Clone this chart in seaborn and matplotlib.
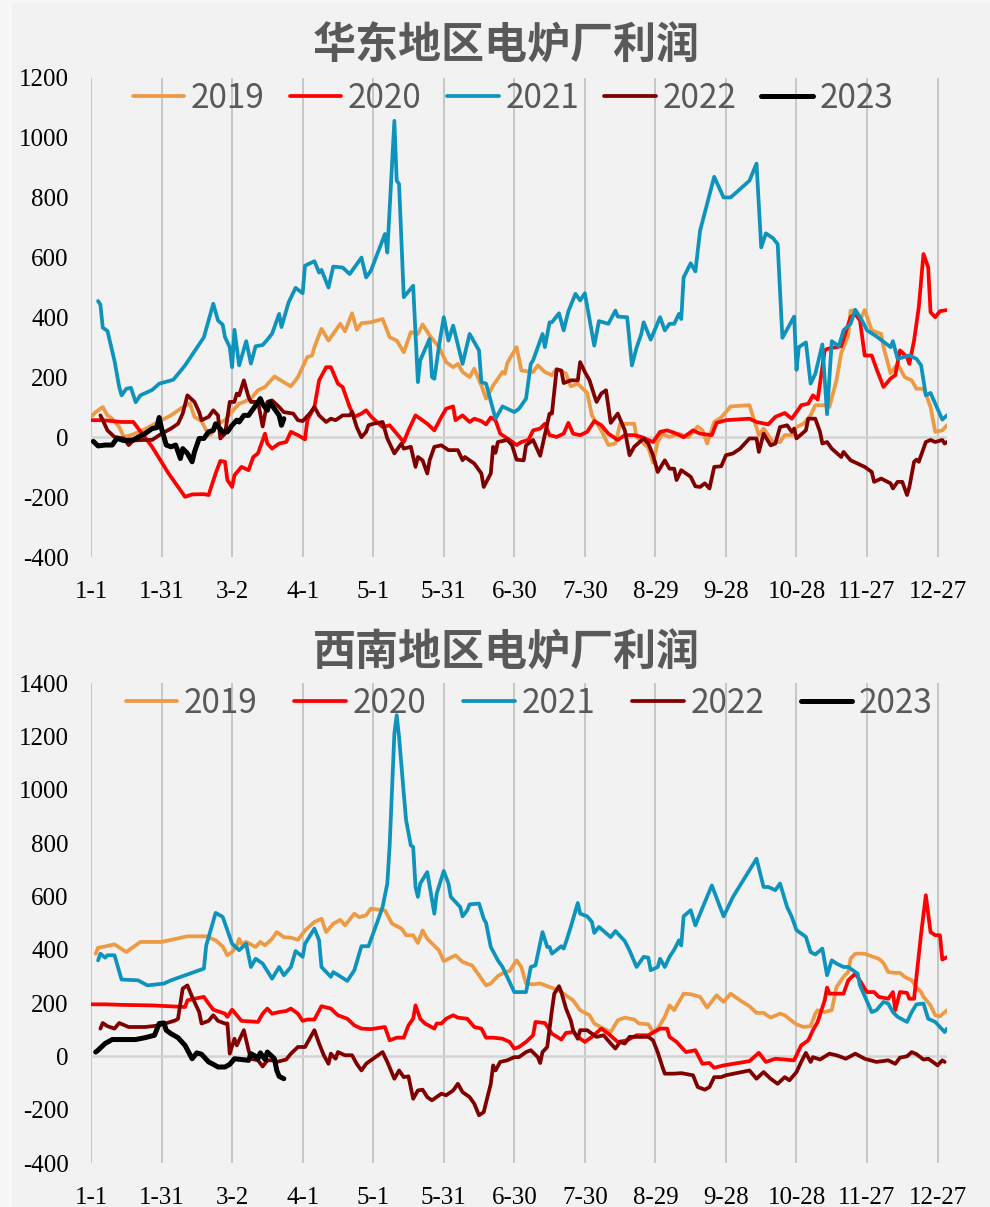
import matplotlib
matplotlib.use("Agg")
import matplotlib.pyplot as plt
from matplotlib.patches import Rectangle
import seaborn as sns
import pandas as pd

# ---- data: (day of year, profit in yuan/ton) ----
YEARS = ["2019", "2020", "2021", "2022", "2023"]
TICK_DAYS = [0, 30, 60, 90, 120, 150, 180, 210, 240, 270, 300, 330, 360]
TICK_LABELS = ["1-1", "1-31", "3-2", "4-1", "5-1", "5-31", "6-30", "7-30",
               "8-29", "9-28", "10-28", "11-27", "12-27"]

EAST_2019 = [(0,68),(2,84),(5,101),(7,73),(9,62),(12,34),(14,1),(17,7),(22,23),(30,57),(34,73),(38,95),(42,114),(44,68),(47,54),(50,7),(51,10),(54,45),(57,57),(61,95),(63,112),(65,118),(68,129),(71,157),(74,168),(78,203),(83,179),(85,170),(88,201),(92,268),(94,273),(95,301),(98,362),(101,323),(106,379),(108,354),(111,414),(113,359),(115,381),(119,384),(124,395),(127,334),(130,323),(133,284),(136,351),(139,345),(141,377),(144,340),(148,301),(151,251),(154,234),(156,245),(158,218),(161,201),(163,229),(166,173),(168,129),(171,173),(175,218),(176,212),(177,247),(178,262),(181,301),(183,223),(188,218),(190,240),(193,218),(196,207),(198,229),(202,212),(204,170),(207,179),(211,148),(213,73),(217,23),(220,-26),(223,-21),(225,45),(231,45),(232,1),(237,-35),(239,-85),(241,-15),(243,10),(246,1),(250,12),(254,0),(258,36),(260,23),(262,-21),(265,51),(268,66),(272,103),(280,107),(282,57),(284,7),(286,29),(290,-16),(293,-16),(295,7),(298,7),(300,34),(303,45),(306,73),(308,107),(312,107),(314,101),(317,190),(319,281),(320,301),(322,340),(323,423),(325,423),(327,390),(329,425),(332,357),(336,345),(337,301),(340,214),(343,245),(346,201),(349,190),(351,162),(354,162),(355,145),(357,101),(359,18),(362,23),(364,40)]
EAST_2020 = [(0,57),(5,57),(13,51),(18,51),(26,-32),(33,-121),(40,-199),(43,-191),(48,-190),(50,-193),(53,-121),(55,-79),(57,-82),(58,-143),(60,-166),(61,-127),(64,-99),(67,-110),(69,-66),(71,-54),(74,12),(75,-21),(77,-38),(80,-21),(83,-16),(85,18),(88,7),(91,-7),(92,57),(95,101),(97,190),(100,234),(102,234),(105,179),(107,168),(110,101),(112,68),(115,79),(117,90),(119,70),(122,48),(124,34),(127,40),(130,12),(133,-16),(135,23),(138,73),(140,62),(143,45),(146,23),(149,68),(151,95),(154,103),(155,57),(158,73),(161,51),(163,62),(166,54),(168,43),(170,66),(172,57),(174,12),(178,-9),(181,-26),(183,-16),(186,-9),(188,23),(191,29),(193,45),(195,7),(198,1),(201,12),(203,48),(205,12),(208,7),(211,18),(214,54),(217,40),(220,12),(224,-9),(227,7),(231,7),(234,1),(237,-9),(239,-16),(242,18),(245,23),(248,15),(252,0),(256,23),(259,12),(264,7),(266,48),(270,57),(280,62),(283,51),(288,43),(291,68),(295,81),(298,62),(301,95),(302,107),(305,112),(307,140),(309,126),(310,179),(312,290),(313,295),(319,304),(323,401),(325,412),(327,390),(329,273),(332,273),(334,229),(337,168),(340,196),(342,207),(344,290),(347,268),(348,245),(350,323),(352,434),(354,612),(356,568),(357,418),(359,401),(361,421),(364,425)]
EAST_2021 = [(3,455),(4,443),(5,366),(7,355),(10,255),(12,168),(13,140),(15,162),(17,165),(19,117),(21,140),(26,158),(29,179),(35,192),(40,240),(48,334),(52,446),(54,390),(56,376),(57,334),(59,301),(60,234),(61,359),(63,240),(66,321),(68,246),(70,304),(73,308),(75,326),(77,346),(80,412),(81,368),(84,450),(87,499),(90,481),(91,573),(95,588),(97,550),(98,559),(101,500),(103,570),(107,567),(110,545),(112,567),(115,600),(117,534),(119,556),(125,679),(126,617),(129,1057),(130,857),(131,846),(133,468),(137,506),(139,184),(140,257),(144,329),(145,201),(146,195),(148,306),(150,401),(152,323),(154,373),(158,245),(161,345),(165,290),(166,184),(168,179),(172,62),(175,103),(180,84),(182,95),(185,129),(187,245),(188,257),(192,345),(193,301),(195,384),(196,384),(199,414),(201,357),(203,421),(206,479),(208,457),(210,481),(214,306),(216,388),(220,379),(223,423),(224,403),(228,401),(230,240),(232,299),(234,345),(235,384),(238,326),(242,401),(244,357),(246,379),(248,379),(250,412),(251,395),(252,534),(255,581),(257,554),(259,690),(265,870),(269,801),(272,801),(280,857),(283,914),(285,634),(287,681),(290,665),(292,645),(294,332),(299,403),(300,225),(301,301),(304,317),(306,179),(308,212),(311,310),(313,77),(315,321),(318,304),(320,357),(323,379),(325,426),(328,388),(330,357),(334,337),(340,301),(341,321),(343,262),(348,273),(351,262),(353,240),(355,140),(357,148),(362,59),(364,73)]
EAST_2022 = [(4,73),(5,57),(7,23),(10,1),(14,-4),(16,-26),(18,-11),(22,-9),(26,-9),(30,12),(34,29),(37,45),(39,79),(41,140),(44,118),(46,84),(47,57),(50,68),(52,90),(54,73),(55,-4),(57,12),(59,118),(61,118),(62,146),(63,140),(65,190),(67,134),(68,118),(71,118),(73,36),(75,118),(77,123),(80,101),(82,84),(86,79),(88,57),(90,54),(93,79),(95,101),(97,73),(100,51),(102,62),(104,57),(107,73),(110,73),(111,84),(113,34),(115,0),(117,18),(118,40),(120,45),(124,51),(126,-4),(129,-54),(132,-21),(133,-38),(136,-32),(138,-99),(139,-66),(141,-77),(143,-121),(144,-77),(146,-32),(149,-27),(152,-43),(156,-43),(158,-77),(159,-66),(163,-88),(166,-121),(167,-166),(170,-121),(171,-32),(172,-52),(173,-16),(177,-9),(179,-26),(181,-75),(184,-77),(185,-27),(188,-9),(191,-62),(195,79),(196,79),(198,226),(200,223),(201,181),(204,190),(207,190),(208,251),(210,218),(212,190),(214,140),(215,118),(217,146),(219,157),(221,48),(224,79),(227,23),(229,-60),(231,-32),(235,-4),(237,-21),(239,-60),(241,-116),(244,-77),(246,-105),(248,-105),(249,-143),(251,-110),(255,-132),(257,-164),(259,-166),(261,-154),(263,-171),(265,-99),(268,-97),(270,-60),(273,-54),(276,-38),(280,-4),(283,-4),(284,-49),(286,12),(289,-27),(291,-21),(293,34),(296,40),(298,18),(299,29),(300,-4),(304,23),(305,62),(308,62),(310,18),(311,-21),(313,-16),(315,-38),(319,-66),(320,-49),(323,-77),(326,-88),(329,-99),(332,-116),(333,-149),(336,-138),(340,-154),(341,-171),(343,-149),(345,-149),(347,-193),(348,-166),(350,-82),(351,-75),(352,-82),(355,-16),(357,-9),(359,-16),(362,-9),(363,-21),(364,-16)]
EAST_2023 = [(1,-14),(3,-29),(6,-26),(9,-26),(11,-4),(14,-11),(18,-9),(20,0),(23,12),(26,29),(28,32),(29,66),(30,29),(32,-26),(34,-32),(36,-26),(38,-71),(39,-38),(41,-54),(43,-82),(44,-49),(46,-4),(48,-4),(50,18),(52,23),(53,45),(56,18),(58,18),(60,40),(62,57),(63,51),(65,73),(67,73),(69,95),(72,129),(73,110),(75,90),(76,118),(78,95),(80,73),(81,40),(82,62)]

SW_2019 = [(2,385),(3,407),(6,412),(10,420),(15,391),(17,404),(21,429),(30,429),(41,450),(49,450),(53,435),(56,412),(58,379),(60,391),(62,416),(63,441),(64,422),(66,429),(70,410),(72,429),(74,416),(77,441),(79,466),(82,447),(85,445),(88,437),(91,472),(95,504),(98,516),(100,466),(103,497),(106,512),(108,491),(112,535),(114,522),(117,529),(119,554),(125,547),(128,498),(132,479),(134,454),(137,454),(139,425),(141,472),(143,441),(148,397),(150,357),(155,379),(158,354),(162,341),(165,304),(168,266),(170,273),(173,301),(176,316),(178,320),(181,360),(183,335),(185,273),(188,270),(191,273),(196,257),(200,241),(205,210),(208,173),(212,154),(214,123),(218,104),(221,91),(224,135),(227,145),(231,138),(233,123),(237,120),(239,91),(241,104),(244,148),(246,191),(248,173),(250,204),(252,235),(255,233),(259,223),(262,183),(266,229),(269,204),(272,235),(276,210),(280,188),(283,163),(286,163),(289,145),(293,160),(295,154),(298,133),(300,120),(303,110),(306,113),(308,160),(309,173),(312,166),(315,173),(317,260),(320,298),(322,316),(323,366),(325,385),(329,385),(332,375),(335,366),(337,350),(339,316),(342,313),(344,313),(346,298),(349,285),(351,260),(353,241),(354,223),(357,191),(359,154),(361,150),(364,173)]
SW_2020 = [(0,195),(6,195),(13,193),(26,191),(40,185),(41,210),(44,216),(48,223),(50,198),(52,175),(55,166),(57,160),(58,148),(60,175),(62,154),(64,133),(71,129),(73,160),(75,179),(77,160),(80,166),(83,170),(85,179),(88,160),(90,133),(92,138),(95,138),(98,188),(102,179),(105,154),(109,141),(112,116),(115,104),(119,102),(125,110),(127,60),(130,70),(133,70),(135,116),(137,141),(138,191),(140,141),(142,123),(146,104),(147,123),(149,123),(151,141),(154,154),(156,145),(160,141),(163,110),(166,104),(168,70),(171,70),(175,66),(178,54),(180,29),(182,35),(185,54),(188,79),(189,129),(193,125),(196,85),(200,63),(202,88),(205,91),(207,73),(210,54),(213,73),(217,104),(220,85),(224,54),(228,60),(232,79),(237,79),(242,104),(245,104),(246,73),(249,54),(253,16),(257,23),(260,-28),(263,-25),(265,-43),(269,-34),(280,-18),(284,13),(287,-21),(291,-9),(299,-15),(301,23),(302,41),(305,60),(307,98),(309,129),(312,210),(313,258),(314,235),(320,235),(322,285),(325,310),(326,298),(329,254),(330,241),(333,241),(335,223),(339,216),(341,241),(342,173),(344,241),(347,238),(348,216),(350,216),(351,298),(353,460),(355,604),(357,466),(359,454),(361,454),(362,363),(364,372)]
SW_2021 = [(3,360),(4,385),(6,370),(7,379),(10,379),(13,288),(20,285),(24,266),(31,273),(34,285),(48,329),(49,416),(53,538),(56,523),(60,422),(63,398),(66,422),(68,335),(70,366),(73,348),(77,291),(80,335),(82,304),(85,335),(87,395),(90,373),(91,422),(95,479),(97,435),(98,335),(102,298),(103,316),(109,283),(112,323),(115,413),(118,413),(122,510),(124,560),(126,648),(127,790),(129,1210),(130,1279),(131,1198),(133,985),(134,885),(136,791),(137,785),(138,635),(139,598),(140,648),(143,691),(146,535),(147,610),(150,695),(152,648),(153,598),(157,560),(158,525),(160,548),(161,570),(165,573),(167,516),(168,500),(170,410),(173,360),(175,335),(180,241),(185,241),(187,335),(189,341),(192,466),(194,410),(195,410),(196,385),(200,413),(201,404),(202,429),(204,485),(207,575),(208,535),(211,525),(213,504),(214,463),(216,485),(221,447),(223,470),(227,432),(229,397),(232,335),(235,373),(237,370),(238,323),(241,335),(242,366),(244,335),(246,373),(248,400),(250,435),(251,416),(252,525),(255,548),(257,491),(259,535),(264,641),(269,525),(273,598),(283,741),(286,635),(288,635),(291,623),(293,648),(296,560),(298,523),(300,473),(304,448),(306,391),(308,382),(311,404),(313,304),(315,360),(317,348),(320,335),(322,335),(326,310),(327,266),(332,166),(334,173),(337,204),(339,198),(341,166),(343,148),(347,129),(349,166),(351,195),(354,198),(356,141),(359,129),(361,110),(363,91),(364,104)]
SW_2022 = [(4,104),(5,125),(7,113),(10,104),(12,125),(16,110),(23,110),(29,116),(36,135),(37,141),(39,254),(41,266),(43,223),(46,166),(47,123),(50,133),(52,154),(54,133),(57,123),(58,123),(59,10),(61,66),(62,41),(64,79),(65,98),(67,23),(68,-9),(71,-15),(73,-38),(75,-15),(77,-15),(79,-21),(83,-12),(85,10),(88,35),(91,35),(95,98),(97,48),(99,4),(101,-28),(102,10),(104,-9),(105,16),(108,4),(111,4),(113,-28),(115,-53),(117,-28),(119,-15),(124,16),(126,-21),(129,-84),(131,-53),(133,-78),(135,-75),(137,-159),(139,-128),(141,-125),(143,-153),(145,-165),(148,-146),(149,-140),(151,-146),(154,-128),(156,-103),(158,-134),(161,-153),(163,-178),(165,-221),(167,-209),(170,-103),(171,-34),(172,-53),(174,-21),(177,-15),(180,-3),(182,-3),(185,16),(187,23),(190,-3),(191,-25),(192,16),(194,35),(196,173),(197,235),(199,263),(200,241),(202,179),(204,135),(205,98),(207,66),(208,98),(211,98),(213,85),(215,73),(218,79),(221,48),(223,29),(225,54),(227,48),(229,73),(237,73),(239,60),(241,15),(243,-40),(244,-65),(248,-65),(251,-63),(256,-71),(258,-115),(261,-125),(263,-115),(265,-78),(268,-78),(270,-71),(280,-53),(283,-84),(286,-59),(289,-84),(292,-103),(295,-78),(297,-90),(300,-59),(302,-21),(304,13),(306,-21),(307,-3),(310,-12),(314,10),(317,4),(321,-9),(325,10),(329,-9),(334,-21),(339,-15),(342,-28),(344,-5),(347,0),(349,16),(351,8),(354,-12),(356,-9),(358,-21),(360,-34),(362,-15),(363,-21)]
SW_2023 = [(2,16),(3,23),(6,48),(9,63),(12,63),(19,63),(23,70),(27,79),(29,123),(31,125),(32,98),(34,85),(37,70),(40,41),(43,-9),(45,13),(47,8),(50,-21),(52,-30),(54,-40),(57,-40),(59,-30),(61,-9),(64,-12),(67,-15),(68,10),(70,0),(71,-9),(72,13),(74,-12),(75,16),(78,-9),(79,-53),(80,-75),(82,-84)]

EAST_SERIES = [EAST_2019, EAST_2020, EAST_2021, EAST_2022, EAST_2023]
SW_SERIES = [SW_2019, SW_2020, SW_2021, SW_2022, SW_2023]

COLORS = {"2019": "#ED9A45", "2020": "#FF0000", "2021": "#0E93BC",
          "2022": "#800000", "2023": "#000000"}
WIDTHS = {"2019": 2.7, "2020": 2.7, "2021": 2.7, "2022": 2.7, "2023": 3.6}

sns.set_style("white")
plt.rcParams["font.family"] = ["Noto Sans CJK SC", "DejaVu Sans"]

W, H = 990, 1207
fig = plt.figure(figsize=(W / 100, H / 100), dpi=100, facecolor="#f7f7f7")
fig.patches.append(Rectangle((12 / W, 0), 1, 1 - 3 / H, transform=fig.transFigure,
                             facecolor="#f2f2f2", edgecolor="none", zorder=-5))


def to_frame(series_list):
    rows = []
    for year, pts in zip(YEARS, series_list):
        for d, v in pts:
            rows.append({"day": d, "profit": v, "year": year})
    return pd.DataFrame(rows)


def draw_panel(rect, series_list, title, title_y, ylim, yticks, leg_anchor, colspace):
    ax = fig.add_axes(rect)
    ax.set_facecolor("none")
    df = to_frame(series_list)
    for year in YEARS:
        sns.lineplot(data=df[df["year"] == year], x="day", y="profit", ax=ax,
                     color=COLORS[year], linewidth=WIDTHS[year], label=year,
                     estimator=None, sort=False, solid_capstyle="round",
                     solid_joinstyle="round", zorder=3)
    ax.set_xlim(0, 364)
    ax.set_ylim(*ylim)
    ax.set_xticks(TICK_DAYS)
    ax.set_xticklabels(TICK_LABELS)
    ax.set_yticks(yticks)
    ax.set_yticklabels([str(t) for t in yticks])
    for lab in ax.get_xticklabels() + ax.get_yticklabels():
        lab.set_fontfamily("Liberation Serif")
        lab.set_fontsize(18)
        lab.set_color("black")
    ax.tick_params(axis="x", length=0, pad=17)
    ax.tick_params(axis="y", length=0, pad=16)
    ax.set_xlabel("")
    ax.set_ylabel("")
    for s in ax.spines.values():
        s.set_visible(False)
    for d in TICK_DAYS:
        ax.axvline(d, color="#c6c6c6", lw=1.4, zorder=1)
    ax.axhline(0, color="#d4d4d4", lw=1.8, zorder=1)
    leg = ax.legend(loc="center", bbox_to_anchor=leg_anchor, ncol=5, frameon=False,
                    prop={"family": "Noto Sans CJK SC", "size": 24},
                    handlelength=1.55, handletextpad=0.2, columnspacing=colspace,
                    borderaxespad=0)
    for t in leg.get_texts():
        t.set_color("#595959")
    fig.text(0.511, title_y, title, ha="center", va="center", fontsize=31,
             fontweight="bold", color="#595959", family="Noto Sans CJK SC")
    return ax


x0 = 91 / W
aw = (947 - 91) / W
draw_panel([x0, 1 - 557 / H, aw, (557 - 78) / H], EAST_SERIES, "华东地区电炉厂利润",
           1 - 46 / H, (-400, 1200), list(range(-400, 1201, 200)), (0.493, 0.958), 0.75)
draw_panel([x0, 1 - 1163 / H, aw, (1163 - 683) / H], SW_SERIES, "西南地区电炉厂利润",
           1 - 653 / H, (-400, 1400), list(range(-400, 1401, 200)), (0.512, 0.958), 1.1)

fig.savefig("out.png", dpi=100, facecolor=fig.get_facecolor())
